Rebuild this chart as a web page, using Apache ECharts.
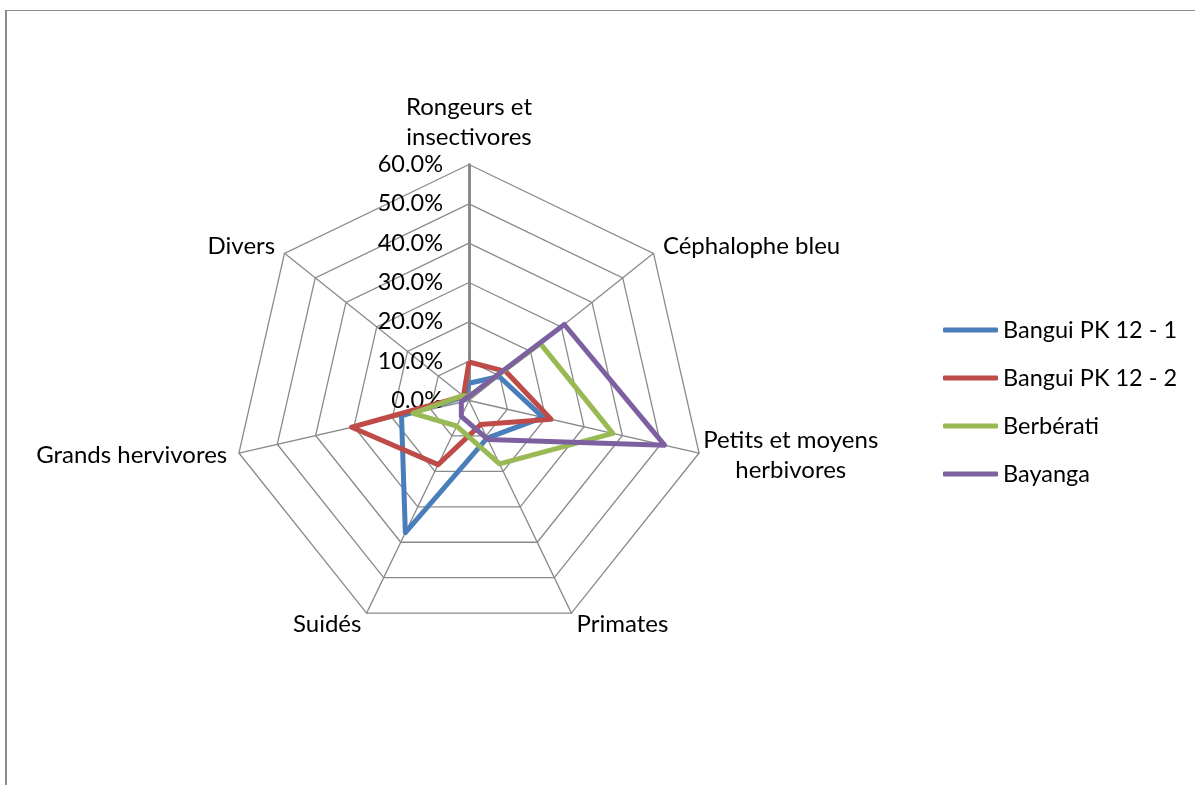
<!DOCTYPE html>
<html><head><meta charset="utf-8">
<script src="https://cdn.jsdelivr.net/npm/echarts@6/dist/echarts.min.js"></script>
<style>
html,body{margin:0;padding:0;background:#fff;}
#frame{position:absolute;left:5px;top:10px;width:1200px;height:790px;border-left:2px solid #8c8c8c;border-top:1px solid #8c8c8c;}
#chart{position:absolute;left:0;top:0;width:1195px;height:785px;}
</style></head>
<body>
<div id="frame"></div>
<div id="chart"></div>
<script>
const categories = ["Rongeurs et\ninsectivores","Céphalophe bleu","Petits et moyens\nherbivores","Primates","Suidés","Grands hervivores","Divers"];
const seriesNames = ["Bangui PK 12 - 1","Bangui PK 12 - 2","Berbérati","Bayanga"];
const bangui1 = [4.4, 9.8, 19.3, 10.6, 37.3, 17.6, 1.5];
const bangui2 = [9.8, 11.9, 21.4, 6.8, 18.1, 30.6, 1.8];
const berberati = [1.0, 23.2, 37.5, 17.9, 7.2, 14.6, 2.0];
const bayanga = [1.0, 31.0, 51.0, 11.0, 4.5, 2.0, 1.0];
const axisMax = 60;
const colors = ["#4A7EBB","#BE4B48","#98B954","#7D60A0"];

// ECharts lays radar indicators counter-clockwise; the reference goes clockwise.
const order = [0].concat(categories.map((_, i) => i).slice(1).reverse());
const reorder = arr => order.map(i => arr[i]);

const chart = echarts.init(document.getElementById('chart'));
const FONT = 'Lato';
const indicator = reorder(categories).map((c, i) => {
  const o = {name: c, min: 0, max: axisMax};
  if (i === 0) {
    o.axisLabel = {show: true};
    o.axisLine = {lineStyle: {color: '#8a8a8a', width: 3}};
  }
  return o;
});
const allData = [bangui1, bangui2, berberati, bayanga];
chart.setOption({
  backgroundColor: 'transparent',
  color: colors,
  legend: {
    orient: 'vertical', left: 943, top: 316, padding: 0,
    icon: 'roundRect', itemWidth: 55, itemHeight: 5, itemGap: 20,
    textStyle: {fontFamily: FONT, fontSize: 23.5, color: '#000', lineHeight: 28},
    data: seriesNames
  },
  radar: {
    center: [469, 400.5], radius: 236,
    shape: 'polygon', splitNumber: 6, startAngle: 90,
    indicator: indicator,
    axisName: {
      color: '#000', fontFamily: FONT, fontSize: 24, lineHeight: 30,
      formatter: function (name) {
        if (name.indexOf('Petits') === 0) {
          return name.split('\n').map(s => '{c|' + s + '}').join('\n');
        }
        return name;
      },
      rich: {c: {width: 160, align: 'center', fontFamily: FONT, fontSize: 24, lineHeight: 30, color: '#000'}}
    },
    nameGap: 12,
    axisLine: {show: true, lineStyle: {color: '#8a8a8a', width: 1.3}},
    splitLine: {lineStyle: {color: '#8a8a8a', width: 1.3}},
    splitArea: {show: false},
    axisTick: {show: false},
    axisLabel: {show: false, color: '#000', fontFamily: FONT, fontSize: 23.5, margin: 26,
      formatter: function (v) { return v.toFixed(1) + '%'; }}
  },
  series: [{
    type: 'radar',
    symbol: 'none',
    lineStyle: {width: 5},
    data: allData.map((d, i) => ({name: seriesNames[i], value: reorder(d), lineStyle: {color: colors[i], width: 5}}))
  }]
});
</script>
</body></html>
